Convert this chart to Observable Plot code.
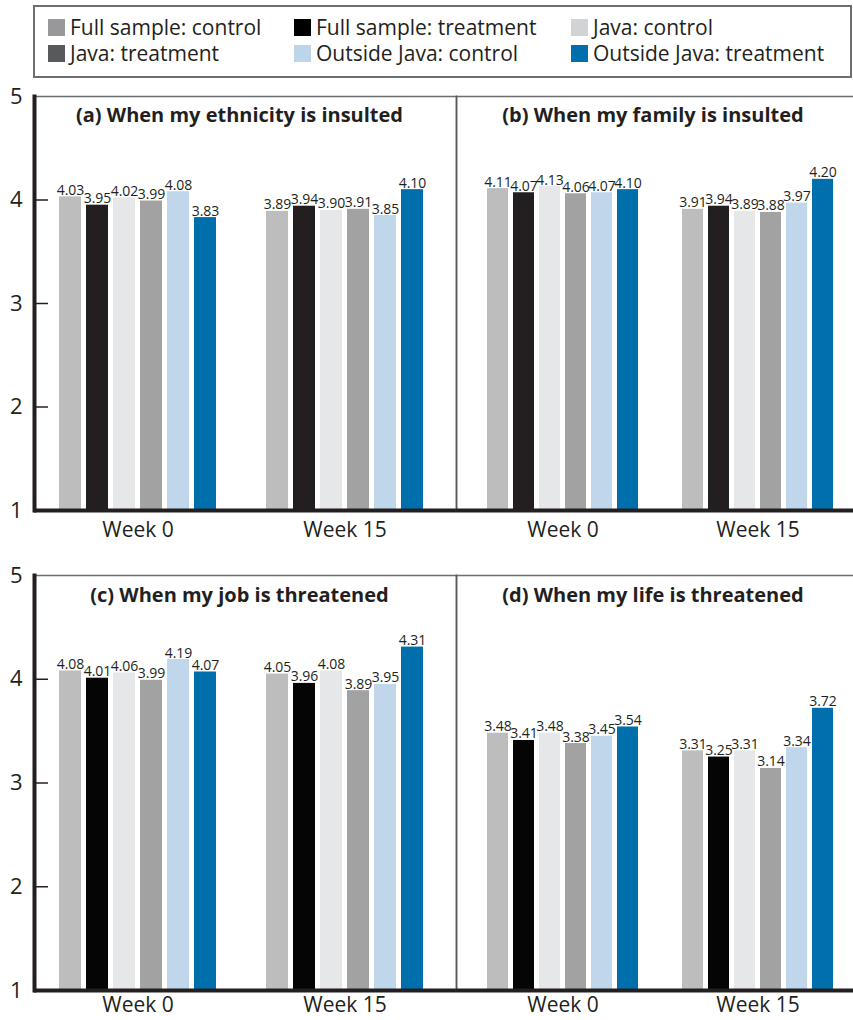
<!DOCTYPE html>
<html>
<head>
<meta charset="utf-8">
<script src="https://cdn.jsdelivr.net/npm/d3@7"></script>
<script src="https://cdn.jsdelivr.net/npm/@observablehq/plot@0.6"></script>
<style>
  body { margin: 0; background: #fff; }
  #root { position: relative; width: 853px; height: 1020px; overflow: hidden; font-family: "Open Sans", sans-serif; color: #231f20; }
  #legend { position: absolute; left: 33px; top: 5px; width: 819px; height: 73px; box-sizing: border-box; border: 2px solid #6d6e71; }
  .item { position: absolute; display: flex; align-items: center; font-size: 21px; white-space: nowrap; line-height: 1; }
  .sw { width: 17px; height: 17px; margin-right: 5px; flex: none; }
  .panel { position: absolute; }
</style>
</head>
<body>
<div id="root">
  <div id="legend"></div>
</div>
<script>
// ---- data ----
const weeks = ["Week 0", "Week 15"];
const series = ["Full sample: control", "Full sample: treatment", "Java: control", "Java: treatment", "Outside Java: control", "Outside Java: treatment"];
const legendColors = ["#98989b", "#000000", "#d1d3d4", "#58595b", "#bcd5ea", "#006fac"];
const barColorsTop = ["#bdbdbd", "#231f20", "#e6e7e8", "#a2a2a2", "#bfd6eb", "#006fac"];
const barColorsBottom = ["#bdbdbd", "#050505", "#e6e7e8", "#a2a2a2", "#bfd6eb", "#006fac"];
const yTicks = [1, 2, 3, 4, 5];
const yInnerTicks = [2, 3, 4];

const titles = ["(a) When my ethnicity is insulted", "(b) When my family is insulted", "(c) When my job is threatened", "(d) When my life is threatened"];
const ethnicityWeek0 = [4.03, 3.95, 4.02, 3.99, 4.08, 3.83];
const ethnicityWeek15 = [3.89, 3.94, 3.90, 3.91, 3.85, 4.10];
const familyWeek0 = [4.11, 4.07, 4.13, 4.06, 4.07, 4.10];
const familyWeek15 = [3.91, 3.94, 3.89, 3.88, 3.97, 4.20];
const jobWeek0 = [4.08, 4.01, 4.06, 3.99, 4.19, 4.07];
const jobWeek15 = [4.05, 3.96, 4.08, 3.89, 3.95, 4.31];
const lifeWeek0 = [3.48, 3.41, 3.48, 3.38, 3.45, 3.54];
const lifeWeek15 = [3.31, 3.25, 3.31, 3.14, 3.34, 3.72];

const panelValues = [
  [ethnicityWeek0, ethnicityWeek15],
  [familyWeek0, familyWeek15],
  [jobWeek0, jobWeek15],
  [lifeWeek0, lifeWeek15]
];

// ---- legend ----
const root = document.getElementById("root");
const legendCols = [48, 294, 571];
const legendRows = [27, 53];
series.forEach((s, i) => {
  const el = document.createElement("div");
  el.className = "item";
  el.style.left = legendCols[i % 3] + "px";
  el.style.top = (legendRows[Math.floor(i / 3)] - 10) + "px";
  el.style.height = "20px";
  el.innerHTML = `<span class="sw" style="background:${legendColors[i]}"></span><span>${s}</span>`;
  root.appendChild(el);
});

// ---- panels ----
const font = "Open Sans";
function makePanel(idx) {
  const col = idx % 2, row = Math.floor(idx / 2);
  const left = col === 0, top = row === 0;
  const [w0, w15] = panelValues[idx];
  const data = weeks.flatMap((wk, wi) => series.map((s, si) => ({week: wk, series: s, value: (wi === 0 ? w0 : w15)[si]})));
  const dims = {
    width: left ? 456 : 397,
    height: top ? 475 : 460,
    marginLeft: left ? 34 : 0,
    marginRight: 0,
    marginTop: top ? 16 : 15,
    marginBottom: top ? 45 : 30
  };
  const style = {fontFamily: font, color: "#231f20", background: "transparent", overflow: "visible"};

  // bars, value labels, week labels (faceted by week)
  const bars = Plot.plot({
    ...dims, style,
    y: {domain: [1, 5], axis: null},
    x: {domain: series, paddingInner: 0.2, paddingOuter: 0, axis: null},
    fx: left ? {domain: weeks, paddingInner: 0.23, paddingOuter: 0.13, align: 0.43}
             : {domain: weeks, paddingInner: 0.226, paddingOuter: 0.128, align: 0.6},
    color: {domain: series, range: top ? barColorsTop : barColorsBottom},
    marks: [
      Plot.barY(data, {fx: "week", x: "series", y1: 1, y2: "value", fill: "series"}),
      Plot.text(data, {fx: "week", x: "series", y: "value", text: d => d.value.toFixed(2), dy: -2, lineAnchor: "bottom", fontSize: 14, fill: "#231f20"}),
      Plot.axisFx({anchor: "bottom", tickSize: 0, tickPadding: top ? 12 : 7, fontSize: 21, label: null, fill: "#231f20"})
    ]
  });

  // frame lines, y axis, title (not faceted)
  const frameMarks = [
    Plot.ruleY([5], {stroke: "#6d6e71", strokeWidth: 1.7}),
    Plot.frame({anchor: left ? "right" : "left", stroke: "#58595b", strokeWidth: 1.5}),
    Plot.text([titles[idx]], {frameAnchor: "top", dy: top ? 11 : 12, dx: left ? -6 : -2, fontWeight: "bold", fontSize: 20, fill: "#231f20"})
  ];
  if (left) {
    frameMarks.push(
      Plot.frame({anchor: "left", stroke: "#231f20", strokeWidth: 4}),
      Plot.axisY(yTicks, {tickSize: 0, tickPadding: 12, fontSize: 22, tickFormat: d => String(d), label: null, fill: "#231f20"}),
      Plot.axisY(yInnerTicks, {tickSize: -14, tickFormat: () => "", label: null, stroke: "#231f20", strokeWidth: 1.5})
    );
  }
  frameMarks.push(Plot.ruleY([1], {stroke: "#231f20", strokeWidth: 4}));
  const overlay = Plot.plot({
    ...dims, style,
    y: left ? {domain: [1, 5]} : {domain: [1, 5], axis: null},
    marks: frameMarks
  });

  for (const chart of [bars, overlay]) {
    chart.classList.add("panel");
    chart.style.left = (left ? 0 : 456) + "px";
    chart.style.top = (top ? 80 : 560) + "px";
    root.appendChild(chart);
  }
}
[0, 1, 2, 3].forEach(makePanel);
</script>
</body>
</html>
